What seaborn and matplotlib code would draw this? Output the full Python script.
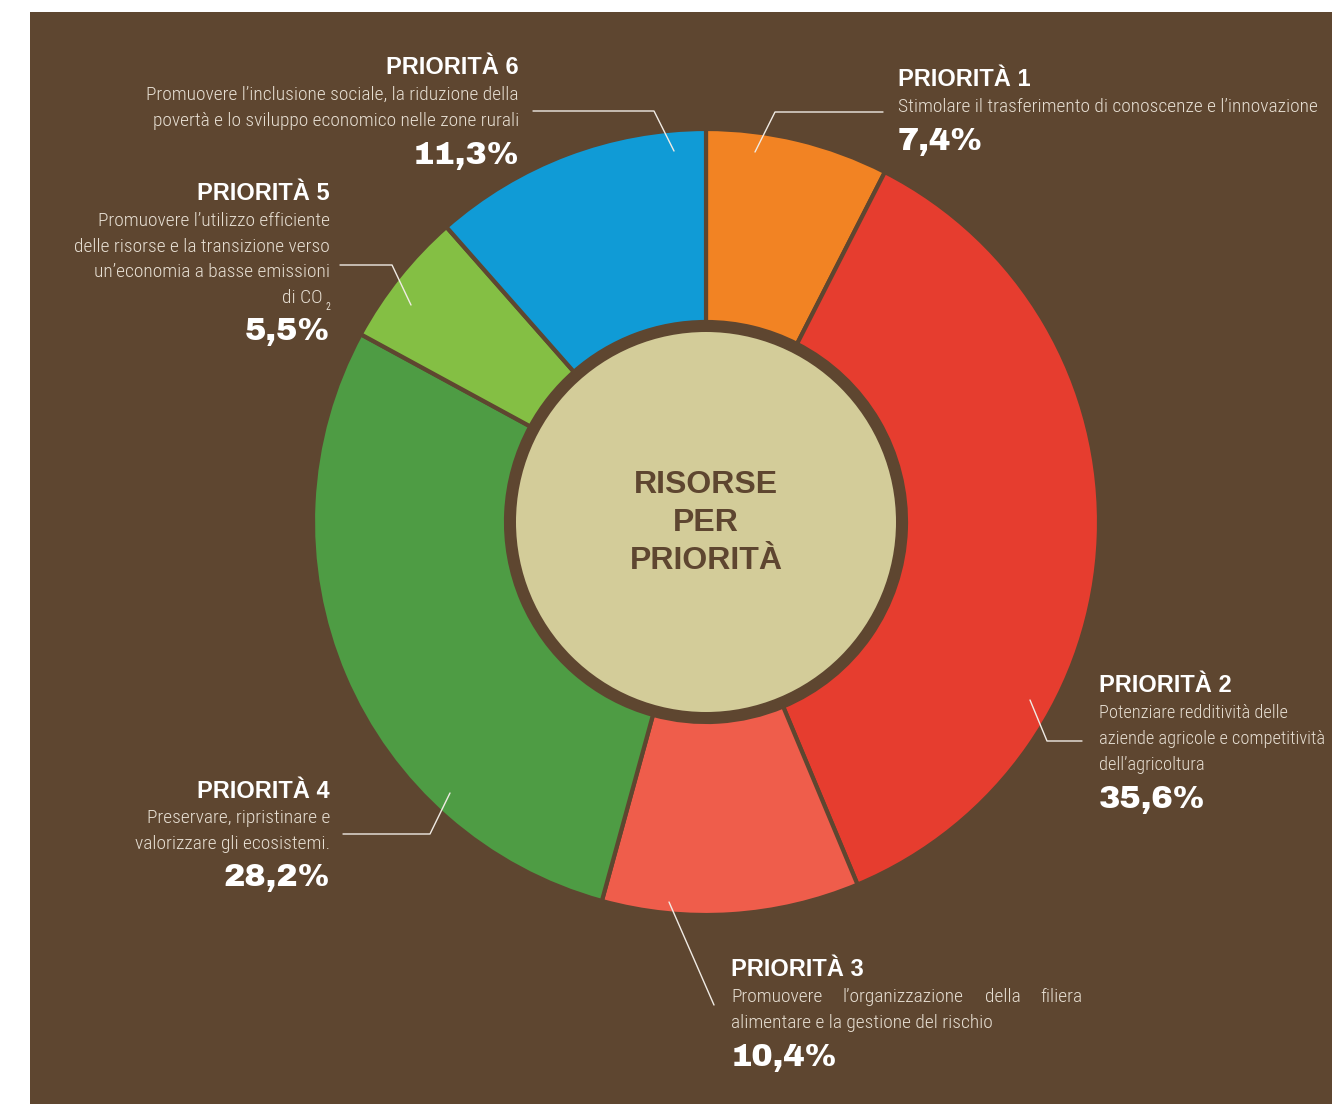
import numpy as np
import seaborn as sns
import matplotlib.pyplot as plt
from matplotlib.patches import Rectangle, Circle

# dati
priorita = ["PRIORITÀ 1", "PRIORITÀ 2", "PRIORITÀ 3", "PRIORITÀ 4", "PRIORITÀ 5", "PRIORITÀ 6"]
quote = [7.4, 35.6, 10.4, 28.2, 5.5, 11.3]
valori = ["7,4%", "35,6%", "10,4%", "28,2%", "5,5%", "11,3%"]
descrizioni = [
    ["Stimolare il trasferimento di conoscenze e l’innovazione"],
    ["Potenziare redditività delle", "aziende agricole e competitività", "dell’agricoltura"],
    ["Promuovere l’organizzazione della filiera", "alimentare e la gestione del rischio"],
    ["Preservare, ripristinare e", "valorizzare gli ecosistemi."],
    ["Promuovere l’utilizzo efficiente", "delle risorse e la transizione verso",
     "un’economia a basse emissioni", "di CO"],
    ["Promuovere l’inclusione sociale, la riduzione della",
     "povertà e lo sviluppo economico nelle zone rurali"],
]
colori = ["#f28323", "#e63d2f", "#ef5d4b", "#4e9c44", "#84bf44", "#109bd6"]

BROWN = "#5e4630"
BEIGE = "#d3cc99"
DESC = "#e6ded2"
W, H = 1332, 1104

sns.set_theme(style="white")
plt.rcParams["font.family"] = ["Liberation Sans", "DejaVu Sans"]
narrow = ["Roboto Condensed", "Archivo Narrow", "Liberation Sans", "DejaVu Sans"]
heavy = ["Archivo Black", "DejaVu Sans"]
DFS = 14
VFS = 23

fig = plt.figure(figsize=(W / 100, H / 100), dpi=100, facecolor="white")
ax = fig.add_axes([0, 0, 1, 1])

palette = sns.color_palette(colori)
cx, cy = 706, H - 522
ax.pie(quote, colors=palette, startangle=90, counterclock=False,
       center=(cx, cy), radius=393,
       wedgeprops=dict(width=193, edgecolor=BROWN, linewidth=3))
ax.add_patch(Rectangle((30, 0), W - 30, H - 12, facecolor=BROWN, edgecolor="none", zorder=-5))
ax.add_patch(Circle((cx, cy), 200, facecolor=BROWN, edgecolor="none", zorder=5))
ax.add_patch(Circle((cx, cy), 190, facecolor=BEIGE, edgecolor="none", zorder=6))
ax.set_xlim(0, W)
ax.set_ylim(0, H)
ax.set_aspect("equal")
ax.axis("off")

for i, riga in enumerate(["RISORSE", "PER", "PRIORITÀ"]):
    ax.text(cx, H - (485 + 38 * i), riga, ha="center", va="center",
            fontsize=23, fontweight="bold", color=BROWN, zorder=7)


def Y(p):
    return H - p


def descr(x, y, s, ha, fs=DFS):
    ax.text(x, Y(y), s, ha=ha, va="center", fontsize=fs, fontweight="light",
            family=narrow, color=DESC)


def etichetta(i, x, ha, y_head, dy=26, fs=DFS):
    ax.text(x, Y(y_head), priorita[i], ha=ha, va="center", fontsize=17,
            fontweight="bold", color="white")
    y = y_head + 27
    for riga in descrizioni[i]:
        descr(x, y, riga, ha, fs)
        y += dy
    ax.text(x, Y(y + 8), valori[i], ha=ha, va="center", fontsize=VFS,
            family=heavy, color="white")


etichetta(0, 898, "left", 80)
etichetta(1, 1099, "left", 686, fs=13.2)
etichetta(3, 330, "right", 791)
etichetta(5, 519, "right", 68)

# priorità 5 (CO2 con pedice)
ax.text(330, Y(194), priorita[4], ha="right", va="center", fontsize=17,
        fontweight="bold", color="white")
for k, riga in enumerate(descrizioni[4]):
    descr(323 if k == 3 else 330, 221 + 25.7 * k, riga, "right")
ax.text(330, Y(307), "2", ha="right", va="center", fontsize=7, family=narrow, color=DESC)
ax.text(330, Y(332), valori[4], ha="right", va="center", fontsize=VFS,
        family=heavy, color="white")

# priorità 3 (prima riga giustificata)
ax.text(731, Y(970), priorita[2], ha="left", va="center", fontsize=17,
        fontweight="bold", color="white")
parole = descrizioni[2][0].split()
for parola, (xx, ha) in zip(parole, [(731, "left"), (843, "left"), (985, "left"), (1082, "right")]):
    descr(xx, 997, parola, ha)
descr(731, 1023, descrizioni[2][1], "left")
ax.text(731, Y(1057), valori[2], ha="left", va="center", fontsize=VFS,
        family=heavy, color="white")

# linee di richiamo
richiami = [
    [(755, 152), (775, 112), (883, 112)],
    [(1030, 700), (1047, 741), (1082, 741)],
    [(669, 902), (714, 1005)],
    [(450, 793), (430, 834), (343, 834)],
    [(411, 305), (392, 265), (340, 265)],
    [(674, 151), (654, 111), (533, 111)],
]
for pts in richiami:
    xs = [p[0] for p in pts]
    ys = [Y(p[1]) for p in pts]
    ax.plot(xs, ys, color="#f0ebe4", lw=1, zorder=8)

fig.savefig("out.png", dpi=100, facecolor="white")
